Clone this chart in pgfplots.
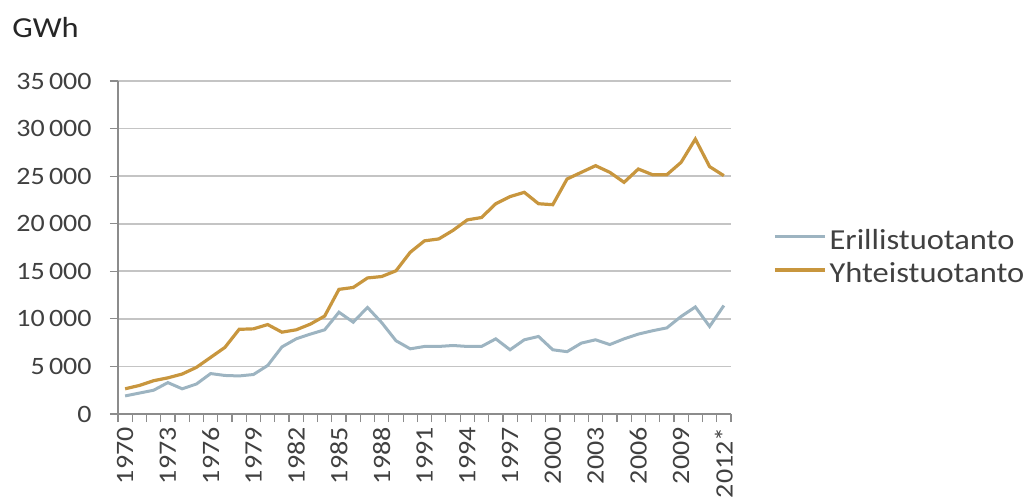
\documentclass[border=0pt]{standalone}
\usepackage{pgfplots}
\pgfplotsset{compat=1.18}
\usepackage{fontspec}
\setmainfont{Carlito}[FakeStretch=1.12]
\definecolor{blueline}{HTML}{9DB4C1}
\definecolor{goldline}{HTML}{C8963E}
\definecolor{gridc}{HTML}{C4C4C4}
\definecolor{axisc}{HTML}{8C8C8C}
\definecolor{txt}{HTML}{404040}

\pgfplotstableread{
x year sep comb
0 1970 1900 2650
1 1971 2200 3000
2 1972 2500 3500
3 1973 3300 3800
4 1974 2650 4200
5 1975 3150 4900
6 1976 4250 5950
7 1977 4050 7000
8 1978 4000 8900
9 1979 4150 8950
10 1980 5100 9400
11 1981 7050 8600
12 1982 7900 8850
13 1983 8400 9450
14 1984 8850 10300
15 1985 10700 13100
16 1986 9650 13300
17 1987 11200 14300
18 1988 9600 14450
19 1989 7700 15050
20 1990 6850 17000
21 1991 7100 18200
22 1992 7100 18400
23 1993 7200 19300
24 1994 7100 20400
25 1995 7100 20650
26 1996 7900 22100
27 1997 6750 22850
28 1998 7800 23300
29 1999 8150 22100
30 2000 6750 22000
31 2001 6550 24700
32 2002 7450 25400
33 2003 7800 26100
34 2004 7300 25400
35 2005 7900 24350
36 2006 8400 25750
37 2007 8750 25150
38 2008 9050 25150
39 2009 10250 26450
40 2010 11250 28900
41 2011 9200 26000
42 2012 11400 25050
}\datatable

\begin{document}
\begin{tikzpicture}
\useasboundingbox (0,0) rectangle (515pt,249.5pt);
\node[anchor=base west, inner sep=0pt, font=\fontsize{14.5}{17}\selectfont, text=black!85] at (6pt,230.5pt) {GWh};
\begin{axis}[
  at={(59pt,42.5pt)}, anchor=south west,
  scale only axis, width=306.5pt, height=166.5pt,
  xmin=-0.5, xmax=42.5, ymin=0, ymax=35000,
  axis lines*=left,
  axis line style={-, axisc, line width=0.8pt},
  xtick={-0.5,0.5,...,42.5},
  xticklabels={},
  extra x ticks={0,3,...,42},
  extra x tick labels={1970,1973,1976,1979,1982,1985,1988,1991,1994,1997,2000,2003,2006,2009,2012*},
  extra x tick style={major tick length=0pt},
  ytick={0,5000,...,35000},
  scaled y ticks=false,
  yticklabel={\pgfmathprintnumber[fixed, precision=0, 1000 sep={\,}, assume math mode=true]{\tick}},
  tick align=outside,
  major tick length=4pt,
  tick style={axisc, line width=0.6pt},
  ymajorgrids,
  grid style={gridc, line width=0.9pt},
  xticklabel style={rotate=90, anchor=east, inner sep=0pt, xshift=-6.5pt, font=\fontsize{12.5}{14}\selectfont, text=txt},
  yticklabel style={anchor=east, inner sep=0pt, xshift=-9pt, font=\fontsize{12.5}{14}\selectfont, text=txt},
  legend style={at={(1,0.5)}, anchor=west, xshift=21pt, yshift=-4.75pt, draw=none, fill=none, inner sep=0pt,
    font=\fontsize{14.5}{17}\selectfont, text=txt, row sep=3pt,
    nodes={inner xsep=1.5pt, inner ysep=1pt}},
  legend cell align=left,
  legend image code/.code={\draw[#1] (0pt,0.18em) -- (25pt,0.18em);},
]
\addplot[blueline, line width=1.5pt] table[x=x, y=sep] {\datatable};
\addlegendentry{Erillistuotanto}
\addplot[goldline, line width=1.6pt] table[x=x, y=comb] {\datatable};
\addlegendentry{Yhteistuotanto}
\end{axis}
\end{tikzpicture}
\end{document}
